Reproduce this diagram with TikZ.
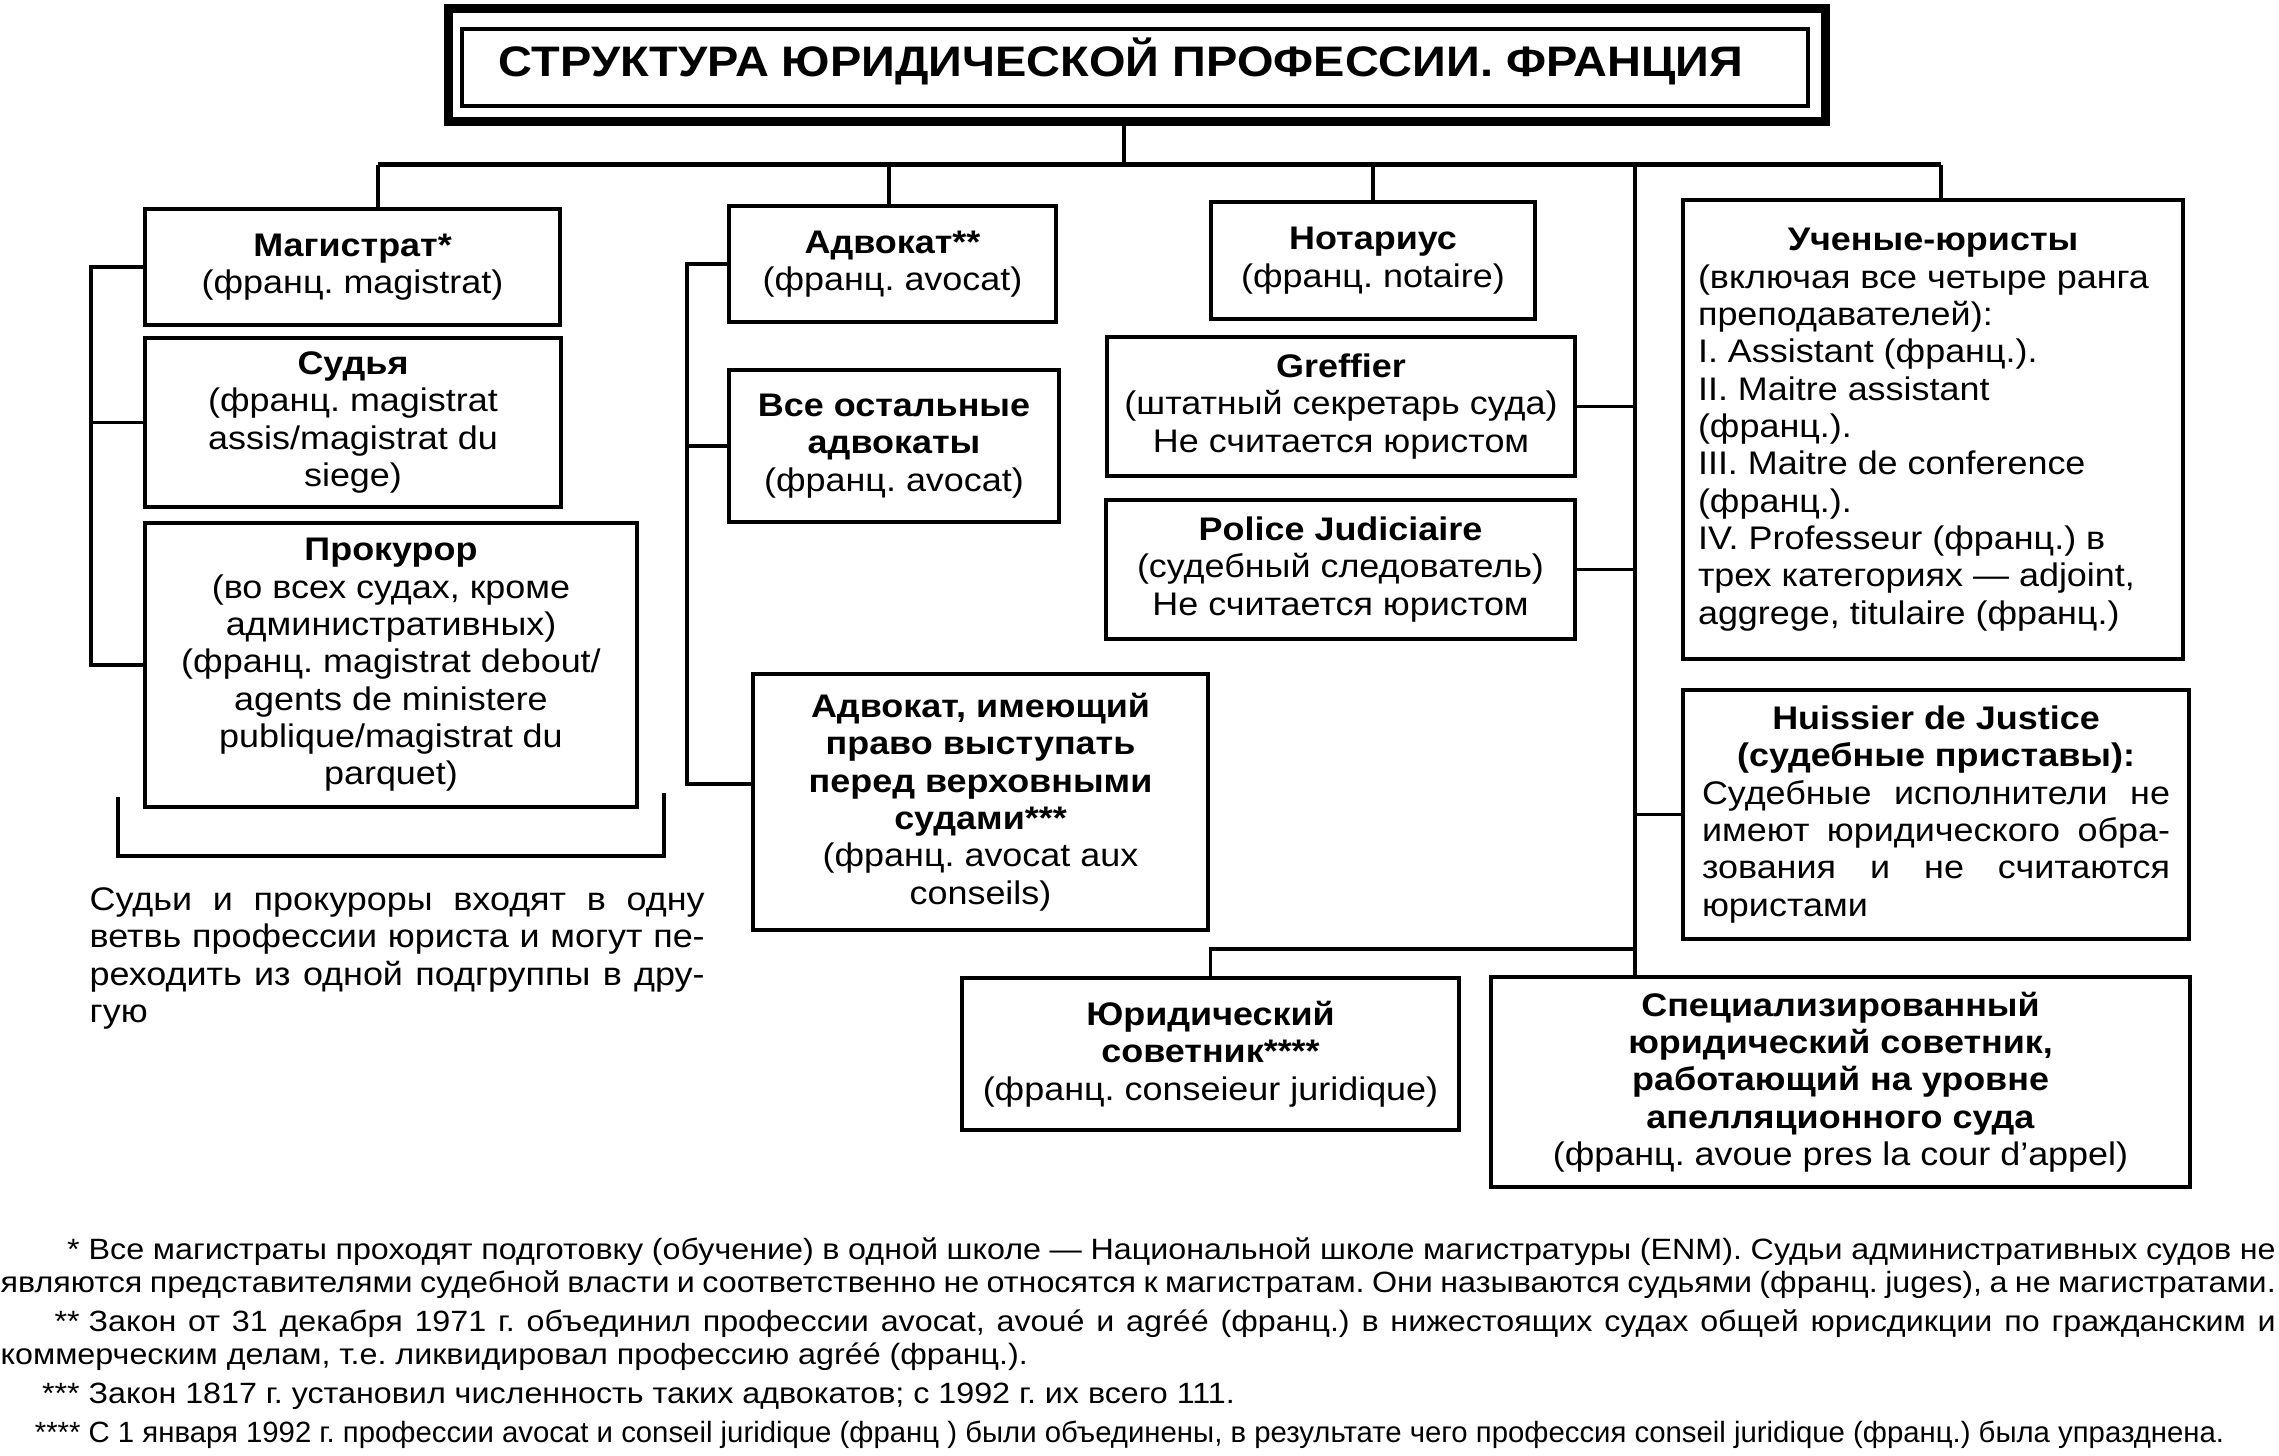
\documentclass[tikz,border=0pt]{standalone}
\usepackage{fontspec}
\setmainfont{Liberation Sans}[FakeStretch=1.1]
\newfontfamily\serre{Liberation Sans}[FakeStretch=1.0]
\frenchspacing
\begin{document}
\begin{tikzpicture}[x=0.3pt, y=-0.3pt,
  boite/.style={draw, line width=1.1pt, inner sep=0pt, align=center,
    font=\fontsize{9.8}{11.2}\selectfont},
  lien/.style={line width=1.1pt},
  bus/.style={line width=1.5pt}]
  \useasboundingbox (0,0) rectangle (2279,1456);

  % Titre
  \draw[line width=2.7pt] (448,9) rectangle (1825,122);
  \draw[line width=1.2pt] (462,29) rectangle (1808,106);
  \node[inner sep=0pt, font=\fontsize{12.8}{14}\selectfont\bfseries] (titre) at (1121,61)
    {СТРУКТУРА ЮРИДИЧЕСКОЙ ПРОФЕССИИ. ФРАНЦИЯ};

  % Magistrats
  \node[boite, minimum width=124.5pt, minimum height=34.8pt] (mag) at (352.5,267)
    {\textbf{Магистрат*}\\(франц. magistrat)};
  \node[boite, minimum width=124.8pt, minimum height=50.7pt] (sud) at (353,422.5)
    {\textbf{Судья}\\(франц. magistrat\\assis/magistrat du\\siege)};
  \node[boite, minimum width=147.6pt, minimum height=85.2pt] (prok) at (391,665)
    {\textbf{Прокурор}\\(во всех судах, кроме\\административных)\\(франц. magistrat debout/\\agents de ministere\\publique/magistrat du\\parquet)};

  % Avocats
  \node[boite, minimum width=98.1pt, minimum height=34.8pt] (adv) at (892.5,264)
    {\textbf{Адвокат**}\\(франц. avocat)};
  \node[boite, minimum width=99pt, minimum height=45.6pt] (adv2) at (894,446)
    {\textbf{Все остальные}\\\textbf{адвокаты}\\(франц. avocat)};
  \node[boite, minimum width=136.5pt, minimum height=76.8pt] (adv3) at (980.5,802)
    {\textbf{Адвокат, имеющий}\\\textbf{право выступать}\\\textbf{перед верховными}\\\textbf{судами***}\\(франц. avocat aux\\conseils)};

  % Notaire, greffier, police
  \node[boite, minimum width=97.2pt, minimum height=35.1pt] (not) at (1373,260.5)
    {\textbf{Нотариус}\\(франц. notaire)};
  \node[boite, minimum width=140.4pt, minimum height=41.7pt] (gref) at (1341,406.5)
    {\textbf{Greffier}\\(штатный секретарь суда)\\Не считается юристом};
  \node[boite, minimum width=140.7pt, minimum height=41.7pt] (pol) at (1340.5,569.5)
    {\textbf{Police Judiciaire}\\(судебный следователь)\\Не считается юристом};

  % Universitaires et huissiers
  \node[boite, minimum width=150pt, minimum height=137.7pt] (uch) at (1933,429.5)
    {\textbf{Ученые-юристы}\\\parbox[t]{141pt}{\raggedright (включая все четыре ранга\\преподавателей):\\I. Assistant (франц.).\\II. Maitre assistant\\(франц.).\\III. Maitre de conference\\(франц.).\\IV. Professeur (франц.) в\\трех категориях — adjoint,\\aggrege, titulaire (франц.)}};
  \node[boite, minimum width=151.8pt, minimum height=74.7pt] (hui) at (1936,814.5)
    {\textbf{Huissier de Justice}\\\textbf{(судебные приставы):}\\\parbox[t]{140.4pt}{\hyphenpenalty=10000 Судебные исполнители не\linebreak имеют юридического обра-\linebreak зования и не считаются\linebreak юристами}};

  % Conseillers juridiques
  \node[boite, minimum width=149.1pt, minimum height=45.6pt] (jur) at (1210.5,1054)
    {\textbf{Юридический}\\\textbf{советник****}\\(франц. conseieur juridique)};
  \node[boite, minimum width=209.7pt, minimum height=63pt] (spec) at (1840.5,1082)
    {\textbf{Специализированный}\\\textbf{юридический советник,}\\\textbf{работающий на уровне}\\\textbf{апелляционного суда}\\(франц. avoue pres la cour d'appel)};

  % Ligne principale et descentes
  \coordinate (tbas) at (1124,126);
  \coordinate (busL) at (378,165);
  \coordinate (busA) at (889,165);
  \coordinate (busS) at (1635,165);
  \coordinate (busR) at (1941,165);
  \draw[lien] (tbas) -- (tbas |- busL);
  \draw[bus] (busL) -- (busR);
  \draw[lien] (busL) -- (busL |- mag.north);
  \draw[lien] (busA) -- (busA |- adv.north);
  \draw[lien] (not.north |- busL) -- (not.north);
  \draw[lien] (busR) -- (busR |- uch.north);
  \draw[lien] (busS) -- (busS |- spec.north);

  % Branche gauche
  \coordinate (gauche) at (91,0);
  \draw[lien] (mag.west) -- (mag.west -| gauche) |- (prok.west);
  \draw[lien] (sud.west) -- (sud.west -| gauche);

  % Branche des avocats
  \coordinate (milieu) at (687,0);
  \draw[lien] (adv.west) -- (adv.west -| milieu) |- ([yshift=5.4pt]adv3.west);
  \draw[lien] (adv2.west) -- (adv2.west -| milieu);

  % Branche de droite
  \draw[lien] (gref.east) -- (gref.east -| busS);
  \draw[lien] (pol.east) -- (pol.east -| busS);
  \draw[lien] (hui.west) -- (hui.west -| busS);
  \coordinate (jbus) at (1635,949);
  \draw[lien] (jbus) -| (jur.north);

  % Accolade sous les magistrats
  \draw[lien] (118,797) -- (118,856) -- (664,856) -- (664,793);
  \node[anchor=north west, inner sep=0pt, text width=184.5pt, align=justify,
    font=\fontsize{9.8}{11.2}\selectfont] (remarque) at (89,887)
    {\hyphenpenalty=10000 Судьи и прокуроры входят в одну\linebreak ветвь профессии юриста и могут пе-\linebreak реходить из одной подгруппы в дру-\linebreak гую};

  % Notes
  \node[anchor=north west, inner sep=0pt, text width=682.5pt, align=justify,
    font=\fontsize{8.8}{9.9}\selectfont] (notes) at (0,1237)
    {\setlength{\parskip}{1.8pt}\setlength{\parindent}{0pt}\hyphenpenalty=10000
    \makebox[26.4pt][r]{*\ }Все магистраты проходят подготовку (обучение) в одной школе — Национальной школе магистратуры (ENM).  Судьи  административных судов не\linebreak являются представителями судебной власти и соответственно не относятся к магистратам. Они называются судьями (франц. juges), а не магистратами.\par
    \makebox[26.4pt][r]{**\ }Закон от 31 декабря 1971 г. объединил профессии avocat, avoué и agréé (франц.) в нижестоящих судах общей юрисдикции по гражданским и\linebreak коммерческим делам, т.е. ликвидировал профессию agréé (франц.).\par
    \makebox[26.4pt][r]{***\ }Закон 1817 г. установил численность таких адвокатов; с 1992 г. их всего 111.\par
    {\serre\makebox[26.4pt][r]{****\ }С 1 января 1992 г. профессии avocat и conseil juridique (франц ) были объединены, в результате чего профессия conseil juridique (франц.) была упразднена.\par}};
\end{tikzpicture}
\end{document}
